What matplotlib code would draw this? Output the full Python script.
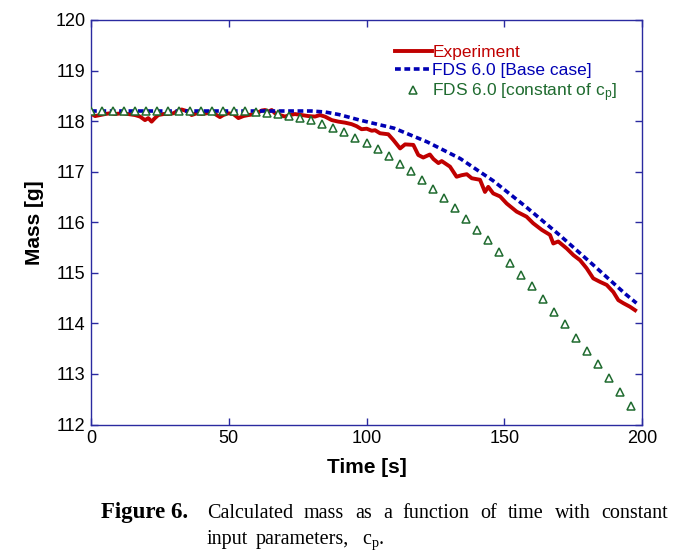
import matplotlib
matplotlib.use("Agg")
import matplotlib.pyplot as plt
import numpy as np

plt.rcParams['font.family'] = ['Liberation Sans', 'DejaVu Sans']
plt.rcParams['mathtext.fontset'] = 'custom'
plt.rcParams['mathtext.rm'] = 'Liberation Sans'
plt.rcParams['mathtext.it'] = 'Liberation Sans:italic'

# ---------------- data ----------------
exp_t = [0, 1.5, 3.3, 5.1, 6.9, 8.7, 11.1, 13.5, 16.0, 17.8, 19.6, 20.8, 22.0, 23.2, 24.4,
         26.3, 28.1, 29.9, 31.7, 32.9, 34.1, 35.3, 36.5, 38.4, 40.2, 42.0, 43.8, 45.6, 46.8,
         48.0, 49.8, 51.7, 53.5, 55.3, 57.1, 59.5, 62.0, 63.2, 64.4, 65.6, 66.8, 68.6, 70.4,
         72.2, 74.0, 76.5, 78.9, 81.3, 83.1, 84.9, 87.4, 89.8, 92.2, 94.6, 96.4, 98.2, 100.1,
         101.9, 103.1, 104.9, 107.9, 109.7, 112.2, 114.0, 117.0, 118.8, 120.6, 123.0, 124.3,
         126.1, 127.3, 130.3, 132.7, 134.5, 136.4, 138.2, 141.2, 143.0, 144.2, 146.0, 148.5,
         150.9, 154.5, 158.1, 160.5, 163.6, 166.6, 167.8, 169.6, 172.7, 175.1, 177.5, 179.9,
         182.3, 184.8, 187.2, 189.6, 191.4, 193.2, 195.6, 197.5]
exp_m = [118.15, 118.10, 118.12, 118.14, 118.155, 118.14, 118.155, 118.14, 118.12, 118.09,
         118.02, 118.06, 117.99, 118.06, 118.12, 118.14, 118.14, 118.155, 118.21, 118.23,
         118.21, 118.19, 118.12, 118.155, 118.14, 118.155, 118.19, 118.12, 118.08, 118.12,
         118.155, 118.14, 118.06, 118.10, 118.12, 118.14, 118.21, 118.22, 118.19, 118.22,
         118.155, 118.12, 118.09, 118.12, 118.14, 118.12, 118.10, 118.09, 118.12, 118.09,
         118.02, 117.99, 117.97, 117.94, 117.90, 117.84, 117.85, 117.81, 117.82, 117.76,
         117.74, 117.63, 117.46, 117.54, 117.53, 117.33, 117.28, 117.34, 117.25, 117.17,
         117.21, 117.10, 116.90, 116.93, 116.95, 116.87, 116.84, 116.60, 116.70, 116.57,
         116.51, 116.37, 116.21, 116.11, 115.98, 115.85, 115.75, 115.58, 115.62, 115.48,
         115.35, 115.25, 115.09, 114.89, 114.82, 114.76, 114.62, 114.46, 114.40, 114.33,
         114.26]

base_t = [0, 20, 40, 60, 80, 85, 90, 97.6, 110, 122, 134, 146, 158, 170, 182, 194, 198]
base_m = [118.2, 118.2, 118.2, 118.2, 118.2, 118.18, 118.13, 118.02, 117.86, 117.59,
          117.26, 116.82, 116.30, 115.75, 115.17, 114.58, 114.40]

cp_t = list(range(0, 200, 4))
cp_m = [118.2] * 15 + [118.19, 118.17, 118.14, 118.11, 118.07, 118.02, 117.95, 117.87,
        117.78, 117.67, 117.57, 117.45, 117.32, 117.16, 117.01, 116.84, 116.65, 116.47,
        116.28, 116.06, 115.85, 115.64, 115.42, 115.20, 114.96, 114.73, 114.49, 114.23,
        113.98, 113.72, 113.45, 113.19, 112.91, 112.64, 112.37]

x_ticks = [0, 50, 100, 150, 200]
y_ticks = [112, 113, 114, 115, 116, 117, 118, 119, 120]

RED = '#C00000'
BLUE = '#0000B4'
GREEN = '#1F6B2F'
AXC = '#2A2AA0'

fig = plt.figure(figsize=(6.88, 5.54), dpi=100)
ax = fig.add_axes([91/688, 1-424.5/554, (642-91)/688, (424.5-20)/554])

l1, = ax.plot(exp_t, exp_m, color=RED, lw=2.8, label='Experiment', zorder=3)
l2, = ax.plot(base_t, base_m, color=BLUE, lw=2.6, ls=(0, (1.6, 1.0)), label='FDS 6.0 [Base case]', zorder=4)
l3, = ax.plot(cp_t, cp_m, ls='none', marker='^', ms=5.5, mfc='white', mec=GREEN, mew=1.1,
              color=GREEN, label='FDS 6.0 [constant of c$_\\mathregular{p}$]', zorder=5)

ax.set_xlim(0, 200)
ax.set_ylim(112, 120)
ax.set_xticks(x_ticks)
ax.set_yticks(y_ticks)
ax.tick_params(direction='in', length=5, width=1, color=AXC, labelsize=13,
               top=True, right=True, pad=4)
for s in ax.spines.values():
    s.set_color(AXC)
    s.set_linewidth(1.0)

ax.set_xlabel('Time [s]', fontsize=15, fontweight='bold', labelpad=8)
ax.set_ylabel('Mass [g]', fontsize=15, fontweight='bold', labelpad=8)

leg = ax.legend(handles=[l1, l2, l3], loc='upper left', bbox_to_anchor=(0.552, 0.938),
                frameon=False, fontsize=12.5, handlelength=2.1, handletextpad=0.05,
                labelspacing=0.17, borderpad=0, borderaxespad=0,
                labelcolor=[RED, BLUE, GREEN], numpoints=1)

# caption
capfs = 14.5
fig.text(101/688, 1-518/554, 'Figure 6.', fontsize=16.5, fontweight='bold',
         family='Liberation Serif', va='baseline')
words = 'Calculated mass as a function of time with constant'.split()
fig.canvas.draw()
r = fig.canvas.get_renderer()
tx = []
widths = []
for w in words:
    t = fig.text(0, 1-518/554, w, fontsize=capfs, family='Liberation Serif', va='baseline')
    tx.append(t)
    widths.append(t.get_window_extent(r).width)
x0, x1 = 207.0, 668.0
gap = (x1 - x0 - sum(widths)) / (len(words) - 1)
xp = x0
for t, wd in zip(tx, widths):
    t.set_x(xp/688)
    xp += wd + gap
for w, xw in zip(['input', 'parameters,', 'c$_\\mathregular{p}$.'], [207, 256, 362]):
    fig.text(xw/688, 1-544/554, w, fontsize=capfs, family='Liberation Serif', va='baseline')

fig.savefig('out.png', dpi=100)
